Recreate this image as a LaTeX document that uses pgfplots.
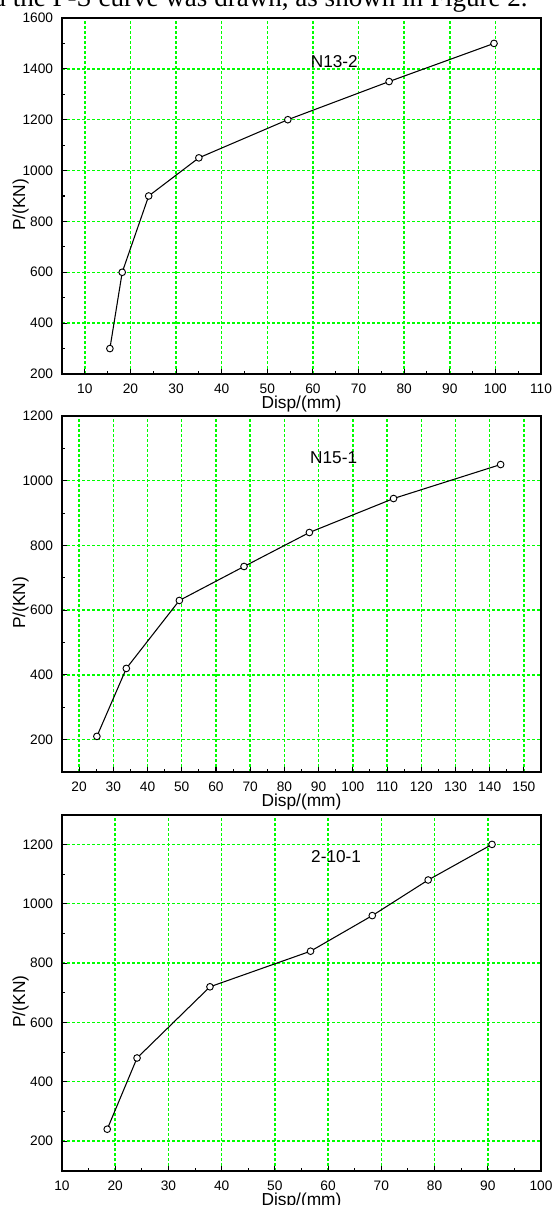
\documentclass[border=0pt]{standalone}
\usepackage{fontspec}
\setmainfont{Liberation Sans}
\newfontfamily\tnr{Liberation Serif}
\usepackage{pgfplots}
\pgfplotsset{compat=1.18}
\definecolor{gridgreen}{RGB}{0,255,0}

\pgfplotsset{
  psplot/.style={
    scale only axis, width=359.25pt, height=267pt, anchor=south west,
    axis line style={line width=1.3pt},
    tick align=inside, xtick pos=left, ytick pos=left,
    major tick length=3.6pt, minor tick length=2.2pt,
    every tick/.style={black, line width=0.8pt},
    minor x tick num=1, minor y tick num=1,
    xmajorgrids, ymajorgrids,
    major grid style={draw=gridgreen, line width=1.1pt, dash pattern=on 2.25pt off 1.5pt},
    ticklabel style={font=\fontsize{10.3}{12}\selectfont},
    xticklabel style={anchor=base, inner sep=0pt, yshift=-14.5pt},
    yticklabel style={anchor=east, inner sep=0pt, xshift=-6.5pt},
    /pgf/number format/assume math mode=true,
    /pgf/number format/1000 sep={},
    xlabel={Disp/(mm)}, ylabel={P/(KN)},
    label style={font=\fontsize{13}{15}\selectfont},
    xlabel style={at={(axis description cs:0.5,-0.0983)}, anchor=base},
    ylabel style={at={(axis description cs:-0.0866,0.475)}, anchor=center},
  },
}
\tikzset{
  ps/.style={black, line width=0.8pt, mark=*, mark size=2.5pt,
    mark options={fill=white, draw=black, line width=0.7pt}},
  ttl/.style={font=\fontsize{12.9}{15}\selectfont},
}

\begin{document}
\begin{tikzpicture}
\path[use as bounding box] (0,0) rectangle (415.5pt,903.75pt);

% cropped sentence from the page above the figure
\node[font=\tnr\fontsize{20.3}{24}\selectfont, anchor=base east, inner sep=0pt]
  at (396pt,898.8pt) {and the P-S curve was drawn, as shown in Figure 2.};

% N13-2
\begin{axis}[psplot, at={(46.5pt,623.25pt)},
  xmin=5, xmax=110, ymin=200, ymax=1600,
  xtick={10,20,...,110}, ytick={200,400,...,1600}]
\addplot[ps] coordinates {(15.5,300) (18.2,600) (24,900) (35,1050) (54.5,1200) (76.7,1350) (99.7,1500)};
\node[ttl] at (axis cs:64.7,1427) {N13-2};
\end{axis}

% N15-1
\begin{axis}[psplot, at={(46.5pt,324.75pt)},
  xmin=15, xmax=155, ymin=100, ymax=1200,
  xtick={20,30,...,150}, ytick={200,400,...,1200}]
\addplot[ps] coordinates {(25.2,210) (33.8,420) (49.3,630) (68.2,735) (87.3,840) (111.9,945) (143.2,1050)};
\node[ttl] at (axis cs:94.4,1070) {N15-1};
\end{axis}

% 2-10-1
\begin{axis}[psplot, at={(46.5pt,25.7pt)},
  xmin=10, xmax=100, ymin=100, ymax=1300,
  xtick={10,20,...,100}, ytick={200,400,...,1200}]
\addplot[ps] coordinates {(18.5,240) (24.1,480) (37.8,720) (56.7,840) (68.3,960) (78.8,1080) (90.8,1200)};
\node[ttl] at (axis cs:61.5,1158) {2-10-1};
\end{axis}
\end{tikzpicture}
\end{document}
